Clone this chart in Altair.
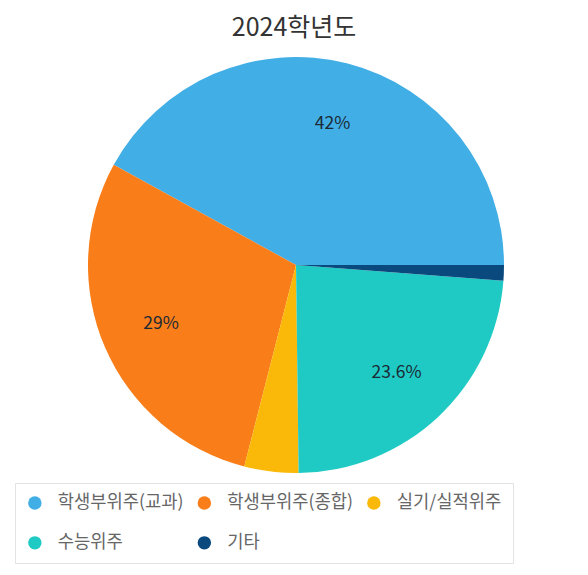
import math
import altair as alt
import pandas as pd

categories = ["학생부위주(교과)", "학생부위주(종합)", "실기/실적위주", "수능위주", "기타"]
values = [42.0, 29.0, 4.2, 23.6, 1.2]
labels = ["42%", "29%", "", "23.6%", ""]
draw_order = [5, 4, 3, 2, 1]
colors = ["#41AEE6", "#F97D18", "#FAB908", "#1FCAC4", "#0A497E"]

FONT = "Noto Sans CJK KR"

df = pd.DataFrame({"category": categories, "value": values, "label": labels, "ord": draw_order})

theta_scale = alt.Scale(range=[math.pi / 2, math.pi / 2 + 2 * math.pi])

legend = alt.Legend(
    title=None, orient="none", legendX=7, legendY=425, direction="horizontal",
    columns=3, symbolType="circle", symbolSize=180, symbolStrokeWidth=0,
    symbolOpacity=1, labelFontSize=17.7, labelFont=FONT, labelColor="#666666",
    labelOffset=14, columnPadding=11.5, rowPadding=21, padding=11,
    strokeColor="#e3e3e3", fillColor="white",
)

base = alt.Chart(df).encode(
    theta=alt.Theta("value:Q", stack=True, scale=theta_scale),
    order=alt.Order("ord:Q", sort="ascending"),
)

arcs = base.mark_arc(outerRadius=208).encode(
    color=alt.Color("category:N", scale=alt.Scale(domain=categories, range=colors), legend=legend),
    x=alt.value(288), y=alt.value(207),
)

text = base.mark_text(radius=147, fontSize=17.5, font=FONT, color="#1b2a35").encode(
    text="label:N", x=alt.value(288), y=alt.value(208),
)

chart = (
    alt.layer(arcs, text)
    .properties(
        width=572, height=509, autosize="none",
        padding={"left": 0, "top": 50, "right": 0, "bottom": 0},
        title=alt.Title("2024학년도", fontSize=25, font=FONT, color="#333333",
                        fontWeight="normal", offset=16),
    )
    .configure_view(stroke=None)
)

chart.save("out.html", embed_options={"renderer": "svg", "actions": False})
